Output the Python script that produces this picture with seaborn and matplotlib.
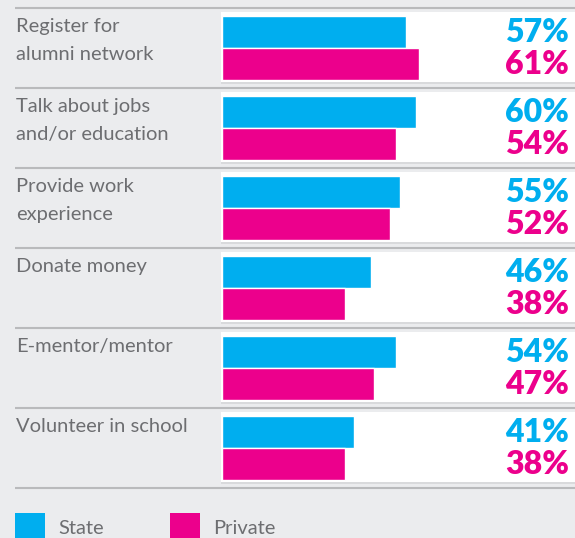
import pandas as pd
import seaborn as sns
import matplotlib.pyplot as plt
from matplotlib.patches import Rectangle

# data
categories = ['Register for\nalumni network', 'Talk about jobs\nand/or education',
              'Provide work\nexperience', 'Donate money', 'E-mentor/mentor',
              'Volunteer in school']
state = [57, 60, 55, 46, 54, 41]
private = [61, 54, 52, 38, 47, 38]
series_names = ['State', 'Private']

CYAN = '#00AEEF'
MAGENTA = '#EC008C'
BG = '#EBECEE'
TEXT = '#6D6E71'

# long form table for seaborn
df = pd.DataFrame({
    'category': categories * 2,
    'value': state + private,
    'school': ['State'] * len(categories) + ['Private'] * len(categories),
})

sns.set_theme(style='white')
plt.rcParams['font.family'] = ['Lato', 'DejaVu Sans']

fig = plt.figure(figsize=(5.75, 5.38), dpi=100, facecolor=BG)
ax = fig.add_axes([0, 0, 1, 1])
ax.set_facecolor(BG)

PX = 3.23  # pixels per percent
n = len(categories)

# white panels behind each pair of bars
for i in range(n):
    ax.add_patch(Rectangle((-0.4, i - 0.5 + 0.05), 130, 0.9,
                           facecolor='#D9DADC', edgecolor='none', zorder=0))
    ax.add_patch(Rectangle((-0.4, i - 0.5 + 0.05), 130, 0.875,
                           facecolor='white', edgecolor='none', zorder=0.5))

sns.barplot(data=df, x='value', y='category', hue='school', orient='h',
            palette={'State': CYAN, 'Private': MAGENTA}, width=0.81,
            saturation=1, dodge=True, legend=False, ax=ax, zorder=2)

# row separators
ax.hlines([i - 0.5 for i in range(n + 1)], (15 - 222) / PX, 200,
          color='#B9BABC', lw=1.5, zorder=1)

# row labels
for i, cat in enumerate(categories):
    ax.text((16 - 222) / PX, i - 0.5 + 0.12, cat, ha='left', va='top',
            fontsize=14.5, color=TEXT, linespacing=1.8)

# percentage labels
for i in range(n):
    ax.text((569 - 222) / PX, i - 0.2, f'{state[i]}%', ha='right', va='center',
            fontsize=23, fontweight='heavy', color=CYAN)
    ax.text((569 - 222) / PX, i + 0.2, f'{private[i]}%', ha='right', va='center',
            fontsize=23, fontweight='heavy', color=MAGENTA)

# legend
ly = (513 - 48) / 80
for name, col, x0, tx in [('State', CYAN, 15, 58), ('Private', MAGENTA, 170, 213)]:
    ax.add_patch(Rectangle(((x0 - 222) / PX, ly), 30 / PX, 0.375,
                           facecolor=col, edgecolor='none', zorder=2))
    ax.text((tx - 222) / PX, ly + 0.19, name, ha='left', va='center',
            fontsize=14.5, color=TEXT)

ax.set_xlim(-222 / PX, 353 / PX)
ax.set_ylim((538 - 48) / 80, -48 / 80)
ax.set_xlabel('')
ax.set_ylabel('')
ax.set_xticks([])
ax.set_yticks([])
for s in ax.spines.values():
    s.set_visible(False)

fig.savefig('out.png', dpi=100, facecolor=BG)
